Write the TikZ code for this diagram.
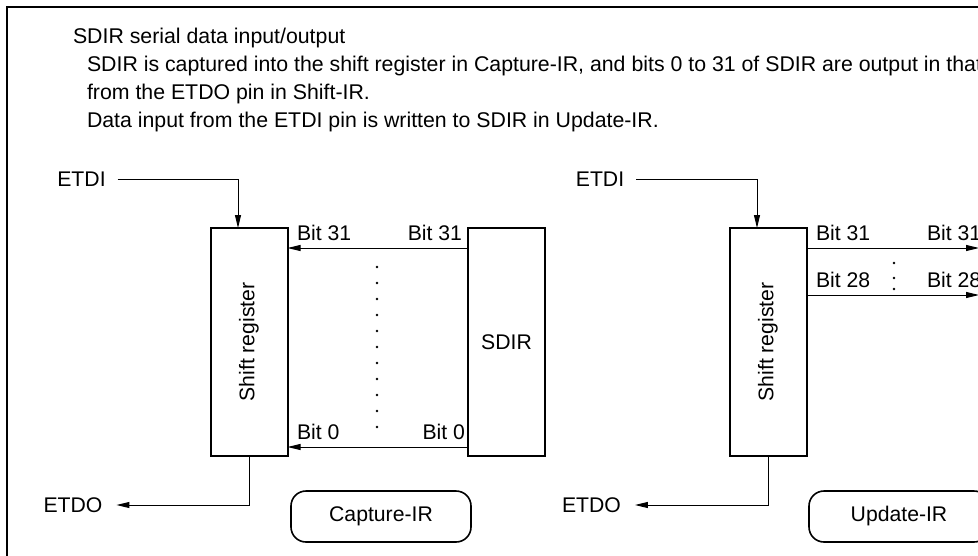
\documentclass[tikz,border=0pt]{standalone}
\usepackage{fontspec}
\setmainfont{Liberation Sans}
\usetikzlibrary{arrows.meta}
\begin{document}
\begin{tikzpicture}[x=1pt,y=-1pt,
  every node/.style={inner sep=0pt,outer sep=0pt,font=\fontsize{21.2}{25}\selectfont},
  hdr/.style={anchor=base west,font=\fontsize{21.3}{25}\selectfont},
  regbox/.style={draw,line width=2pt,minimum width=77pt,minimum height=228pt},
  statebox/.style={draw,line width=1.6pt,rounded corners=15pt,minimum width=180pt,minimum height=51pt},
  arr/.style={line width=1pt,-{Triangle[length=13pt,width=6pt]}},
  dotmark/.style={fill,circle,minimum size=2.6pt}
]
\useasboundingbox (0,0) rectangle (978,555);
\clip (0,0) rectangle (978,555);
\draw[line width=2pt] (7,570) -- (7,7) -- (990,7);

% header
\node[hdr] (h1) at (73,43) {SDIR serial data input/output};
\node[hdr] (h2) at (87,71) {SDIR is captured into the shift register in Capture-IR, and bits 0 to 31 of SDIR are output in that};
\node[hdr] (h3) at (87,99) {from the ETDO pin in Shift-IR.};
\node[hdr] (h4) at (87,127) {Data input from the ETDI pin is written to SDIR in Update-IR.};

% left: Capture-IR
\node[regbox] (sr1) at (249,342) {};
\node[rotate=90] (sr1t) at (sr1.center) {Shift register};
\node[regbox] (sdir) at (506.5,342) {SDIR};
\node (etdi1) at (81.5,179) {ETDI};
\node (etdo1) at (73,505) {ETDO};
\node[statebox] (cap) at (381,516.5) {Capture-IR};
\draw[arr] ([xshift=12pt]etdi1.east) -| ([xshift=-11pt]sr1.north);
\draw[arr] (sr1.south) |- ([xshift=14pt]etdo1.east);
\draw[arr] ([yshift=-20pt]sdir.north west) -- ([yshift=-20pt]sr1.north east);
\draw[arr] ([yshift=9pt]sdir.south west) -- ([yshift=9pt]sr1.south east);
\node[anchor=west] (b31a) at (297,233) {Bit 31};
\node[anchor=east] (b31b) at (462,233) {Bit 31};
\node[anchor=west] (b0a) at (297,432) {Bit 0};
\node[anchor=east] (b0b) at (465,432) {Bit 0};
\foreach \i in {0,...,10} \node[dotmark] (ld\i) at (377,267+16*\i) {};

% right: Update-IR
\node[regbox] (sr2) at (768,342) {};
\node[rotate=90] (sr2t) at (sr2.center) {Shift register};
\node (etdi2) at (600,179) {ETDI};
\node (etdo2) at (591.5,505) {ETDO};
\node[statebox] (upd) at (899,516.5) {Update-IR};
\draw[arr] ([xshift=12pt]etdi2.east) -| ([xshift=-11pt]sr2.north);
\draw[arr] (sr2.south) |- ([xshift=14pt]etdo2.east);
\coordinate (o31) at (979,248);
\coordinate (o28) at (979,295);
\draw[arr] ([yshift=-20pt]sr2.north east) -- (o31);
\draw[arr] ([yshift=-67pt]sr2.north east) -- (o28);
\node[anchor=west] (r31a) at (816,233) {Bit 31};
\node[anchor=west] (r31b) at (927,233) {Bit 31};
\node[anchor=west] (r28a) at (816,280) {Bit 28};
\node[anchor=west] (r28b) at (927,280) {Bit 28};
\node[dotmark] (rd1) at (894,263) {};
\node[dotmark] (rd2) at (894,278) {};
\node[dotmark] (rd3) at (894,289) {};
\end{tikzpicture}
\end{document}
